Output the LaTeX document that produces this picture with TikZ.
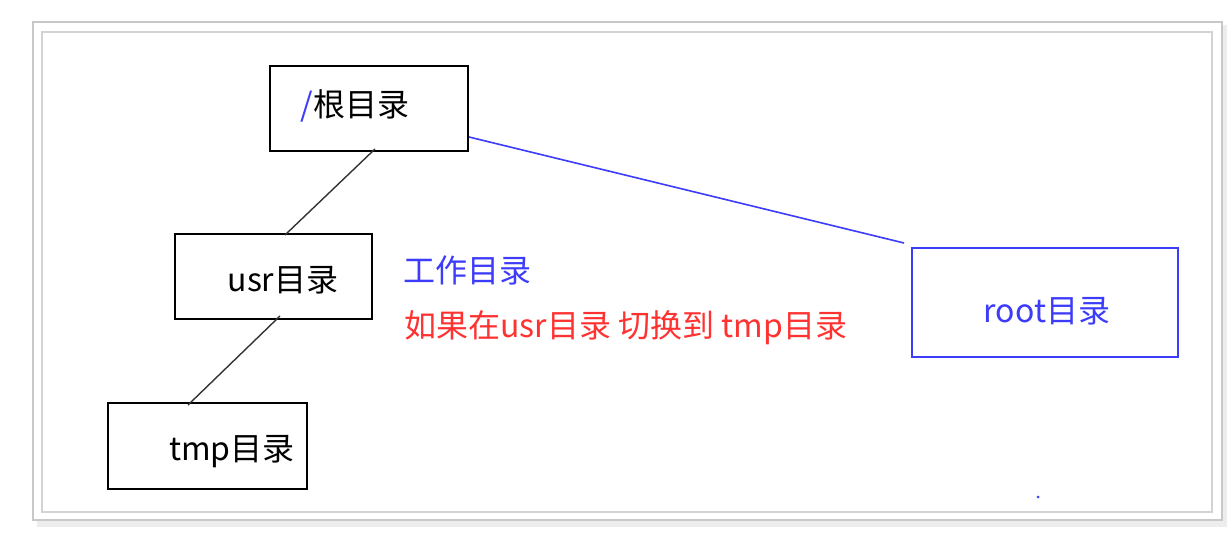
\documentclass[tikz,border=0pt]{standalone}
\usepackage{fontspec}
\setmainfont{Noto Sans CJK SC}
\definecolor{dirblue}{RGB}{60,60,250}
\definecolor{dirred}{RGB}{255,50,50}
\definecolor{framegray}{RGB}{200,200,200}
\begin{document}
\begin{tikzpicture}[%
  box/.style = {draw, line width = 1pt, inner sep = 0pt},
  txt/.style = {inner sep = 0pt, font = \fontsize{16}{19}\selectfont},
  link/.style = {line width = 0.7pt, black!80},
  x = 0.5pt, y = -0.5pt]
  \useasboundingbox (0, 0) rectangle (1231, 534);
  % frame
  \fill[black!7] (37, 25) rectangle (1227, 527);
  \draw[framegray, fill = white, line width = 1pt] (33, 22) rectangle (1222, 520);
  \draw[framegray!80, line width = 0.8pt] (42, 32) rectangle (1212, 512);

  \node[box, minimum width = 99pt, minimum height = 42.5pt] (rootdir) at (369, 108.5) {};
  \node[box, minimum width = 98.5pt, minimum height = 42.5pt] (usr) at (273.5, 276.5) {};
  \node[box, minimum width = 99.5pt, minimum height = 43pt] (tmp) at (207.5, 446) {};
  \node[box, dirblue, minimum width = 133pt, minimum height = 54.5pt] (root) at (1045, 302.5) {};

  \node[txt] (roottxt) at (355, 106) {\textcolor{dirblue}{/}根目录};
  \node[txt] (usrtxt) at (283, 280) {usr目录};
  \node[txt] (tmptxt) at (232, 452) {tmp目录};
  \node[txt, dirblue] (roottxt2) at (1047, 311) {root目录};
  \node[txt, dirblue, anchor = west] (work) at (403, 270) {工作目录};
  \node[txt, dirred, anchor = west] (note) at (404, 328) {如果在usr目录 切换到 tmp目录};

  \draw[link] ([shift = {(3pt, 1.5pt)}]rootdir.south) -- ([shift = {(5.75pt, -1pt)}]usr.north);
  \draw[link] ([shift = {(3.25pt, 2pt)}]usr.south) -- ([shift = {(-9.75pt, -1.5pt)}]tmp.north);
  \draw[dirblue, line width = 0.8pt] ([yshift = -14.25pt]rootdir.east) -- ([shift = {(-3.5pt, 2pt)}]root.north west);
  \fill[dirblue] (1038, 497) circle (1.5);
\end{tikzpicture}
\end{document}
